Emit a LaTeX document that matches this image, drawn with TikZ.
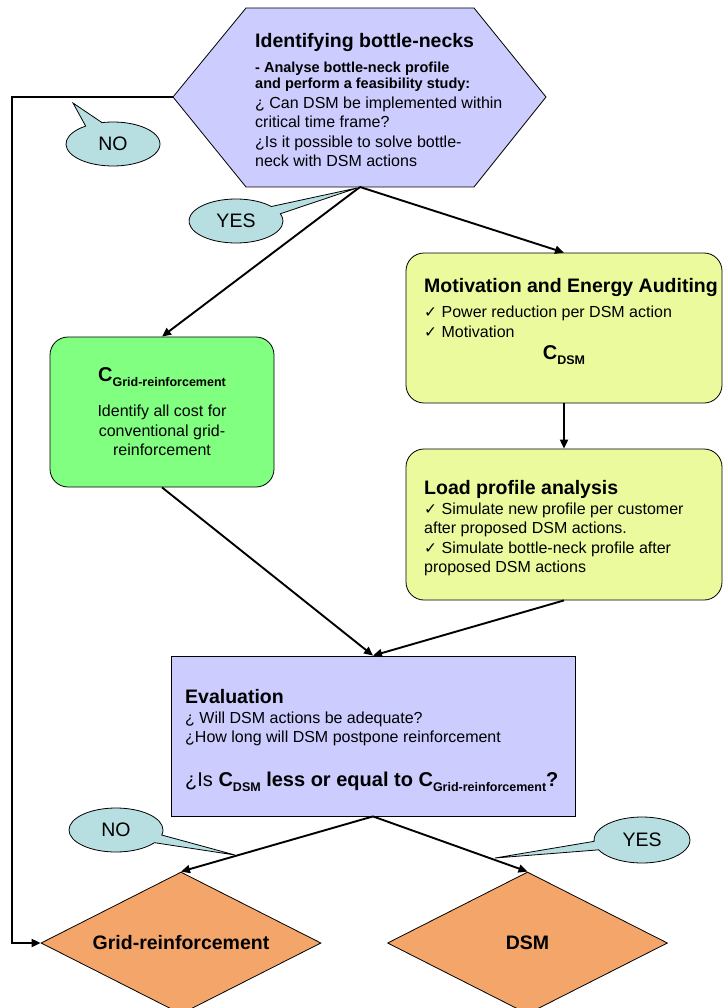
\documentclass[tikz,border=0pt]{standalone}
\usepackage{fontspec}
\setmainfont{Liberation Sans}
\newfontfamily\symfont{DejaVu Sans}
\usepackage{tikz}
\usetikzlibrary{positioning,arrows.meta,shapes.geometric,shapes.callouts}

\definecolor{hexlilac}{RGB}{204,204,255}
\definecolor{gridgreen}{RGB}{128,255,128}
\definecolor{dsmyellow}{RGB}{236,250,158}
\definecolor{calloutblue}{RGB}{183,222,225}
\definecolor{endorange}{RGB}{244,166,106}

\newcommand{\flowbody}{\fontsize{16}{19.5}\selectfont}
\newcommand{\flowtitle}{\fontsize{19.5}{19.5}\selectfont\bfseries}
\newcommand{\flowsub}{\fontsize{14.5}{19.5}\selectfont\bfseries}
\newcommand{\checkmk}{{\symfont\fontsize{15.5}{15.5}\selectfont ✓}}
\newcommand{\costsub}[1]{{\fontsize{20}{20}\selectfont\bfseries C\raisebox{-0.25em}{\fontsize{12.5}{12.5}\selectfont\bfseries #1}}}

\begin{document}
\begin{tikzpicture}[
    x=1pt, y=-1pt,
    box/.style={rectangle, draw=black, line width=0.8pt, rounded corners=18pt, inner sep=0pt},
    arrow/.style={-{Triangle[length=9pt,width=8pt]}, line width=1.9pt},
    bubble/.style={ellipse callout, draw=black, line width=0.8pt, fill=calloutblue, minimum width=94pt, minimum height=44pt, inner sep=0pt, callout pointer arc=22, font=\fontsize{19.5}{19.5}\selectfont},
    endpoint/.style={diamond, draw=black, line width=0.8pt, fill=endorange, shape aspect=1.97, minimum width=280pt, minimum height=142pt, inner sep=0pt, font=\flowtitle},
    txt/.style={align=left, inner sep=0pt, font=\flowbody},
]
\useasboundingbox (0,0) rectangle (723,1008);

% Top: bottle-neck hexagon
\coordinate (hexL) at (173,97);
\coordinate (hexB) at (360,187);
\draw[line width=0.8pt, fill=hexlilac] (hexL) -- (246,8) -- (474,8) -- (546,97) -- (474,187) -- (246,187) -- cycle;
\node[txt, anchor=north west] (hextext) at (255,32.8) {\flowtitle Identifying bottle-necks\\[5.5pt]
  \flowsub - Analyse bottle-neck profile\\[-3.5pt]
  \flowsub and perform a feasibility study:\\[0.5pt]
  ¿ Can DSM be implemented within\\
  critical time frame?\\
  ¿Is it possible to solve bottle-\\[-0.5pt]
  neck with DSM actions};

% Left: conventional cost
\node[box, fill=gridgreen, minimum width=224pt, minimum height=150pt, align=center, font=\flowbody] (gridbox) at (162,412)
  {\costsub{Grid-reinforcement}\\[15.5pt] Identify all cost for\\ conventional grid-\\ reinforcement};

% Right: DSM cost
\node[box, fill=dsmyellow, minimum width=316pt, minimum height=150pt] (motiv) at (564,328) {};
\node[txt, anchor=north west] (motivtext) at (424,277.8) {\flowtitle Motivation and Energy Auditing\\[5.5pt]
  \checkmk{} Power reduction per DSM action\\[0.5pt]
  \checkmk{} Motivation};
\node[inner sep=0pt] (cdsm) at (564,355) {\costsub{DSM}};

\node[box, fill=dsmyellow, minimum width=316pt, minimum height=151pt] (loadbox) at (564,524.5) {};
\node[txt, anchor=north west] (loadtext) at (424,479.8) {\flowtitle Load profile analysis\\[0.5pt]
  \checkmk{} Simulate new profile per customer\\
  after proposed DSM actions.\\
  \checkmk{} Simulate bottle-neck profile after\\
  proposed DSM actions};

% Evaluation
\node[rectangle, draw=black, line width=0.8pt, fill=hexlilac, minimum width=404pt, minimum height=160pt] (evalbox) at (373,736) {};
\node[txt, anchor=north west] (evaltext) at (185,688.8) {\flowtitle Evaluation\\[0.5pt]
  ¿ Will DSM actions be adequate?\\
  ¿How long will DSM postpone reinforcement\\[24pt]
  {\fontsize{20}{20}\selectfont ¿Is \costsub{DSM}\bfseries{} less or equal to \costsub{Grid-reinforcement}\bfseries ?}};

% Outcomes
\node[endpoint] (gridend) at (181,943) {Grid-reinforcement};
\node[endpoint] (dsmend) at (527.5,943) {DSM};

% Arrows
\coordinate (loopc) at (12,500);
\draw[arrow] (hexB) -- (gridbox.north);
\draw[arrow] (hexB) -- (motiv.north);
\draw[arrow] (motiv.south) -- (loadbox.north);
\draw[arrow] (gridbox.south) -- (evalbox.north);
\draw[arrow] (loadbox.south) -- (evalbox.north);
\draw[arrow] (evalbox.south) -- (gridend.north);
\draw[arrow] (evalbox.south) -- (dsmend.north);
\draw[arrow] (hexL) -| (loopc) |- (gridend.west);

% Labels
\coordinate (notipA) at (73,103);
\coordinate (yestipA) at (357,188);
\coordinate (notipB) at (235,855);
\coordinate (yestipB) at (495,858);
\node[bubble, callout absolute pointer=(notipA)] (noA) at (113,144) {NO};
\node[bubble, callout absolute pointer=(yestipA)] (yesA) at (236,221) {YES};
\node[bubble, callout absolute pointer=(notipB)] (noB) at (116,830) {NO};
\node[bubble, callout absolute pointer=(yestipB), minimum width=96pt, minimum height=46pt] (yesB) at (642,840) {YES};

\end{tikzpicture}
\end{document}
